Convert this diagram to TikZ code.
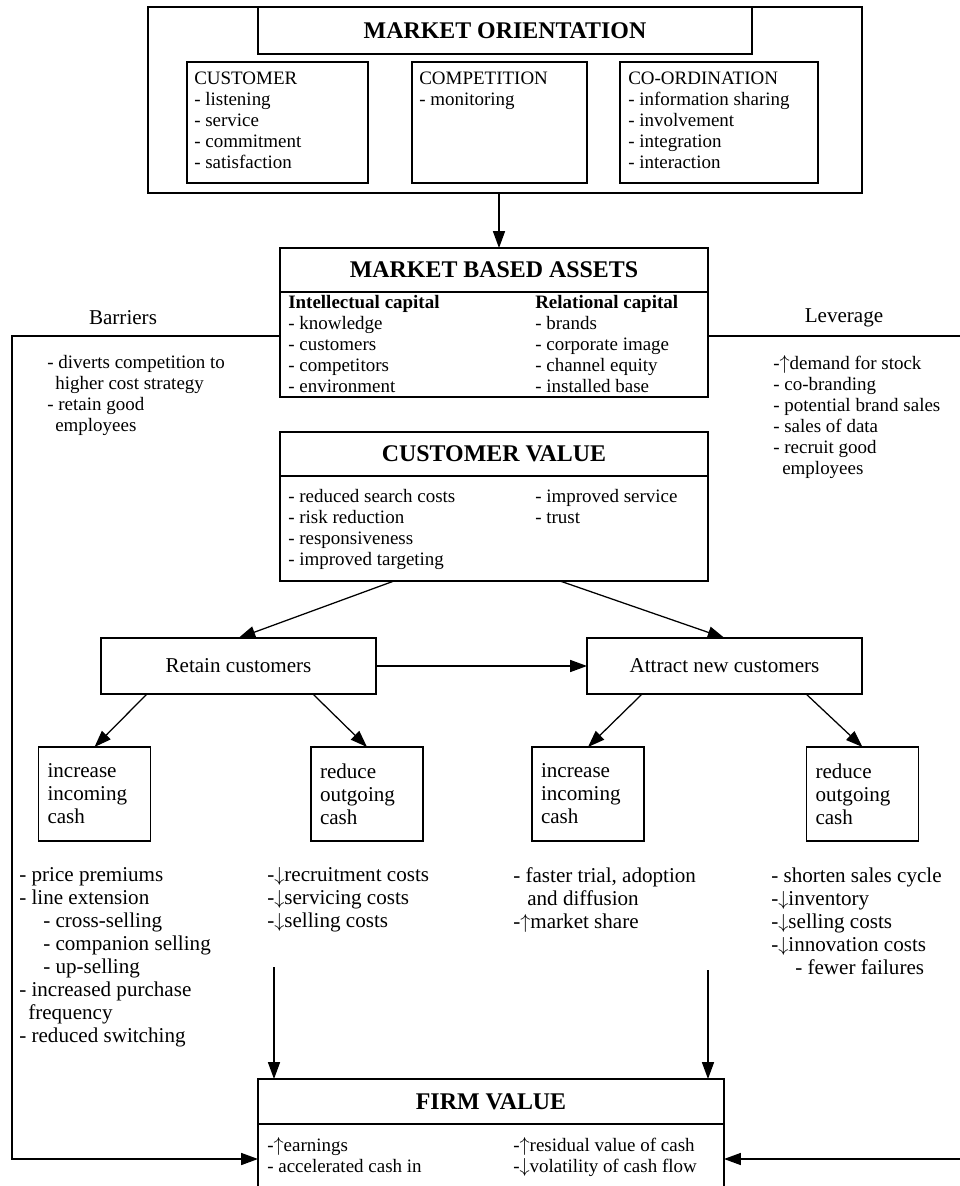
\documentclass[tikz,border=0pt]{standalone}
\usepackage{fontspec}
\setmainfont{Liberation Serif}
\usepackage{tikz}
\usetikzlibrary{positioning,arrows.meta}
\newcommand{\smallfs}{\fontsize{13.5}{14.94}\selectfont}
\newcommand{\largefs}{\fontsize{15}{16.37}\selectfont}
\newcommand{\titlefs}{\fontsize{17}{20}\selectfont\bfseries}

\begin{document}
\begin{tikzpicture}[
  font=\smallfs,
  box/.style={draw, line width=0.9pt, inner sep=0pt, outer sep=0pt},
  titlebox/.style={box, font=\titlefs},
  cashbox/.style={box, font=\largefs, align=left, text width=2.35cm, inner xsep=0.225cm,
                  minimum width=2.8cm, minimum height=2.35cm},
  stepbox/.style={box, font=\largefs, minimum width=6.875cm, minimum height=1.4cm},
  lst/.style={align=left, inner sep=0pt, anchor=north west},
  biglst/.style={lst, font=\largefs},
  flow/.style={-{Triangle[length=4.2mm,width=3mm]}, line width=0.9pt},
]
\useasboundingbox (0,0) rectangle (23.975,-29.65);

% ---- Market orientation ----
\node[box, minimum width=17.85cm, minimum height=4.65cm] (mo) at (12.625,-2.5) {};
\node[titlebox, minimum width=12.35cm, minimum height=1.175cm] (moT) at (12.625,-0.7625) {MARKET ORIENTATION};
\node[box, minimum width=4.525cm, minimum height=3.025cm] (cust)  at (6.9375,-3.0625) {};
\node[box, minimum width=4.375cm, minimum height=3.025cm] (comp)  at (12.4875,-3.0625) {};
\node[box, minimum width=4.95cm,  minimum height=3.025cm] (coord) at (17.975,-3.0625) {};
\node[lst] (custL)  at ([xshift=0.175cm,yshift=-0.25cm]cust.north west)
  {CUSTOMER\\- listening\\- service\\- commitment\\- satisfaction};
\node[lst] (compL)  at ([xshift=0.175cm,yshift=-0.25cm]comp.north west)
  {COMPETITION\\- monitoring};
\node[lst] (coordL) at ([xshift=0.2cm,yshift=-0.25cm]coord.north west)
  {CO-ORDINATION\\- information sharing\\- involvement\\- integration\\- interaction};

% ---- Market based assets ----
\node[titlebox, minimum width=10.7cm, minimum height=1.1cm] (mbaT) at (12.35,-6.75) {MARKET BASED ASSETS};
\node[box, minimum width=10.7cm, minimum height=2.625cm, below=0pt of mbaT] (mbaB) {};
\node[lst] (mbaL) at ([xshift=0.2cm,yshift=-0.075cm]mbaB.north west)
  {\textbf{Intellectual capital}\\- knowledge\\- customers\\- competitors\\- environment};
\node[lst] (mbaR) at ([xshift=1.025cm,yshift=-0.075cm]mbaB.north)
  {\textbf{Relational capital}\\- brands\\- corporate image\\- channel equity\\- installed base};

% ---- Customer value ----
\node[titlebox, minimum width=10.7cm, minimum height=1.1cm] (cvT) at (12.35,-11.35) {CUSTOMER VALUE};
\node[box, minimum width=10.7cm, minimum height=2.625cm, below=0pt of cvT] (cvB) {};
\node[lst] (cvL) at ([xshift=0.2cm,yshift=-0.325cm]cvB.north west)
  {- reduced search costs\\- risk reduction\\- responsiveness\\- improved targeting};
\node[lst] (cvR) at ([xshift=1.025cm,yshift=-0.325cm]cvB.north)
  {- improved service\\- trust};

% ---- Barriers / Leverage ----
\node[font=\largefs] (barT) at (3.075,-7.95) {Barriers};
\node[font=\largefs] (levT) at (21.1,-7.95) {Leverage};
\coordinate (barC) at (0.3,-8.4);
\coordinate (levC) at (24.03,-8.4);
\node[lst] (barList) at (1.175,-8.875)
  {- diverts competition to\\\hspace*{0.2cm}higher cost strategy\\- retain good\\\hspace*{0.2cm}employees};
\node[lst] (levList) at (19.325,-8.875)
  {-$\uparrow$demand for stock\\- co-branding\\- potential brand sales\\- sales of data\\- recruit good\\\hspace*{0.225cm}employees};

% ---- Retain / attract ----
\node[stepbox] (ret) at (5.9625,-16.65) {Retain customers};
\node[stepbox] (att) at (18.1125,-16.65) {Attract new customers};

\node[cashbox] (inc1) at (2.3625,-19.85) {increase incoming cash};
\node[cashbox] (red1) at (9.175,-19.85)  {reduce outgoing cash};
\node[cashbox] (inc2) at (14.7,-19.85)   {increase incoming cash};
\node[cashbox] (red2) at (21.5625,-19.85) {reduce outgoing cash};

\node[biglst] (inc1L) at (0.475,-21.6875)
  {- price premiums\\- line extension\\\hspace*{0.6cm}- cross-selling\\\hspace*{0.6cm}- companion selling\\\hspace*{0.6cm}- up-selling\\- increased purchase\\\hspace*{0.225cm}frequency\\- reduced switching};
\node[biglst] (red1L) at (6.675,-21.6875)
  {-$\downarrow$recruitment costs\\-$\downarrow$servicing costs\\-$\downarrow$selling costs};
\node[biglst] (inc2L) at (12.825,-21.6875)
  {- faster trial, adoption\\\hspace*{0.35cm}and diffusion\\-$\uparrow$market share};
\node[biglst] (red2L) at (19.275,-21.6875)
  {- shorten sales cycle\\-$\downarrow$inventory\\-$\downarrow$selling costs\\-$\downarrow$innovation costs\\\hspace*{0.6cm}- fewer failures};

% ---- Firm value ----
\node[titlebox, minimum width=11.65cm, minimum height=1.125cm] (firmT) at (12.275,-27.5375) {FIRM VALUE};
\node[box, minimum width=11.65cm, minimum height=1.75cm, below=0pt of firmT] (firmB) {};
\node[lst] (firmL) at ([xshift=0.225cm,yshift=-0.325cm]firmB.north west)
  {-$\uparrow$earnings\\- accelerated cash in};
\node[lst] (firmR) at ([xshift=0.55cm,yshift=-0.325cm]firmB.north)
  {-$\uparrow$residual value of cash\\-$\downarrow$volatility of cash flow};
\coordinate (dn1) at (6.85,-24.175);
\coordinate (dn2) at (17.7,-24.25);

% ---- Arrows ----
\draw[flow] ([xshift=-0.15cm]mo.south) -- ([xshift=-0.15cm]mo.south |- mbaT.north);
\draw[flow] ([xshift=-2.5cm]cvB.south) -- (ret.north);
\draw[flow] ([xshift=1.65cm]cvB.south) -- (att.north);
\draw[flow] (ret) -- (att);
\draw[flow] ([xshift=-2.29cm]ret.south) -- (inc1.north);
\draw[flow] ([xshift=1.86cm]ret.south)  -- (red1.north);
\draw[flow] ([xshift=-2.06cm]att.south) -- (inc2.north);
\draw[flow] ([xshift=2.04cm]att.south)  -- (red2.north);
\draw[flow] (dn1) -- (dn1 |- firmT.north);
\draw[flow] (dn2) -- (dn2 |- firmT.north);
\draw[flow] (mbaB.west |- barC) -- (barC) |- (firmB.west);
\draw[flow] (mbaB.east |- levC) -- (levC) |- (firmB.east);

\end{tikzpicture}
\end{document}
